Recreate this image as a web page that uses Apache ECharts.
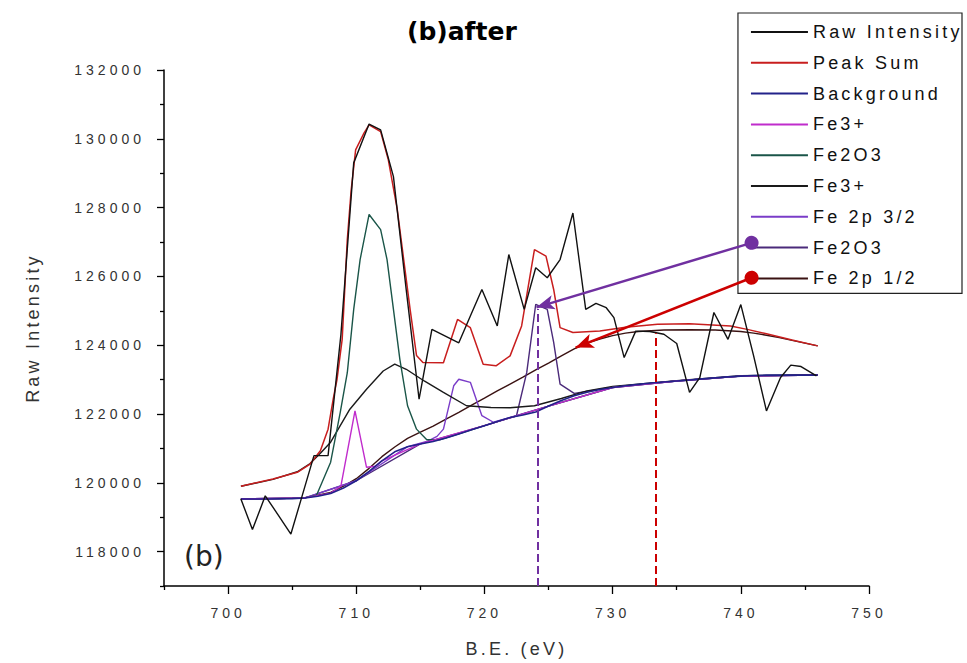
<!DOCTYPE html>
<html>
<head>
<meta charset="utf-8">
<title>(b)after</title>
<script src="https://cdn.jsdelivr.net/npm/echarts@6.0.0/dist/echarts.min.js"></script>
<style>
  html, body { margin: 0; padding: 0; background: #ffffff; }
  #chart { width: 967px; height: 663px; }
  /* Origin-style spaced lettering for tick labels, legend and axis names */
  #chart text[style*="14px"] { letter-spacing: 4px; }
  #chart text[style*="18px"] { letter-spacing: 3.2px; }
</style>
</head>
<body>
<div id="chart"></div>
<script>
// ---- Fe 2p spectrum, binding energy (eV) vs counts ----
const rawIntensity = [
  [701.0,119530],[701.9,118640],[702.9,119620],[703.9,119070],[704.9,118510],[705.8,119650],
  [706.7,120790],[707.8,120790],[708.8,124300],[709.8,129300],[711.0,130430],[711.9,130260],
  [712.9,128900],[713.9,125600],[714.9,122430],[715.9,124460],[718.0,124070],[718.9,124850],
  [719.8,125620],[721.0,124560],[721.9,126635],[723.1,125040],[724.0,126250],[724.9,125960],
  [725.9,126490],[726.9,127843],[727.9,125040],[728.7,125214],[729.5,125090],[730.1,124800],
  [730.9,123640],[731.8,124410],[732.9,124400],[734.0,124320],[735.0,124050],[736.0,122630],
  [736.8,123060],[737.9,124950],[739.0,124170],[740.0,125180],[741.0,123690],[742.0,122090],
  [743.1,123060],[743.9,123420],[744.7,123380],[745.9,123110]
];
const peakSum = [
  [701,119900],[703.5,120110],[705.4,120305],[706.4,120545],[707.2,120930],[707.8,121560],
  [708.2,122430],[708.5,123010],[708.9,124170],[709.3,127070],[709.6,128500],[709.95,129680],
  [710.6,130165],[711,130405],[711.9,130210],[712.5,129390],[713.2,127940],[713.7,126490],
  [714.2,125040],[714.7,123700],[715.2,123500],[716.8,123490],[717.9,124750],[718.9,124510],
  [719.9,123445],[720.9,123400],[722,123690],[722.9,124560],[723.9,126780],[724.8,126590],
  [725.4,125620],[725.9,124510],[726.9,124370],[729,124414],[731,124520],[733.5,124610],
  [736,124620],[739.2,124560],[740.5,124460],[742,124330],[744,124150],[746,123980]
];
const background = [
  [701,119530],[703,119530],[705,119540],[706,119560],[707,119610],[708,119690],[709,119850],
  [710,120060],[711,120330],[712,120640],[713,120900],[714,121050],[715,121130],[716,121200],
  [717,121300],[718,121420],[719,121540],[720,121660],[721,121780],[722,121900],[723,121970],
  [724,122060],[725,122230],[726,122390],[727,122530],[728,122630],[729,122710],[730,122770],
  [731,122820],[732,122860],[733,122900],[734,122930],[735,122960],[736,122990],[737,123020],
  [738,123050],[739,123080],[740,123100],[741,123120],[742,123130],[746,123130]
];
const fe3Plus710 = [
  [701,119530],[706,119560],[708,119700],[708.8,119900],[709.9,122090],[710.8,120450],
  [711.5,120480],[712,120640],[715,121130],[720,121660],[725,122230],[730,122770],
  [735,122960],[740,123100],[746,123130]
];
const fe2o3Main = [
  [701,119530],[706,119560],[706.9,119640],[708,120600],[708.75,122050],[709.3,123200],
  [709.8,125040],[710.3,126490],[711,127800],[711.9,127360],[712.4,126490],[712.9,125040],
  [713.4,123590],[714,122240],[714.7,121560],[715.5,121250],[716.5,121250],[718,121420],
  [720,121660],[725,122230],[730,122770],[735,122960],[740,123100],[746,123130]
];
const fe3Plus713 = [
  [701,119900],[703.5,120100],[705.4,120320],[706.4,120560],[707.2,120860],[708,121180],
  [709.5,122140],[710.8,122720],[712.1,123250],[713,123450],[713.9,123300],[715.3,122960],
  [716.8,122630],[718.6,122240],[720.5,122190],[722,122180],[723.9,122240],[726,122450],
  [728,122670],[730,122800],[735,122970],[740,123110],[746,123140]
];
const fe2p32 = [
  [701,119530],[706,119560],[710,120060],[714,121050],[715.5,121200],[716.3,121350],
  [716.8,121560],[717.6,122820],[718,123010],[718.9,122920],[719.8,121950],[720.7,121760],
  [722,121900],[725,122230],[730,122770],[735,122960],[740,123100],[746,123130]
];
const fe2o3Sat = [
  [701,119530],[706,119560],[710,120060],[715,121130],[720,121660],[722.5,121950],
  [723.3,123210],[724,125190],[724.9,125040],[725.4,124080],[725.9,122870],[727,122600],
  [730,122780],[735,122960],[740,123100],[746,123130]
];
const fe2p12 = [
  [701,119530],[704,119540],[706,119570],[707,119640],[708,119720],[709,119900],[710,120120],
  [711,120420],[712,120760],[713,121040],[714,121290],[715,121470],[716,121650],[717,121850],
  [718,122050],[719,122260],[720,122460],[721,122670],[722,122870],[723,123070],[724,123280],
  [725,123480],[726,123690],[727,123890],[728,124060],[729,124180],[730,124280],[731,124350],
  [732,124400],[733,124420],[734,124440],[736,124450],[738,124440],[739,124420],[740,124400],
  [741,124350],[742,124290],[743,124220],[744,124140],[745,124060],[746,123980]
];

// peak position guides and legend call-outs (eV, counts)
const fe2o3Guide = { x: 724.12, top: 125050 };
const fe2p12Guide = { x: 733.36, top: 124350 };
const fe2o3Arrow = { from: [740.84, 126976], to: [724.06, 125100] };
const fe2p12Arrow = { from: [740.84, 125961], to: [727.11, 123932] };

// axis ticks
const xMajor = [700, 710, 720, 730, 740, 750];
const xMinor = [695, 705, 715, 725, 735, 745];
const yMajor = [118000, 120000, 122000, 124000, 126000, 128000, 130000, 132000];
const yMinor = [117000, 119000, 121000, 123000, 125000, 127000, 129000, 131000];

// legend entries (series key -> shown label)
const legendKeys = ['raw', 'sum', 'bg', 'fe3a', 'fe2o3a', 'fe3b', 'fe2p32', 'fe2o3b', 'fe2p12'];
const legendLabels = {
  raw: 'Raw Intensity', sum: 'Peak Sum', bg: 'Background', fe3a: 'Fe3+', fe2o3a: 'Fe2O3',
  fe3b: 'Fe3+', fe2p32: 'Fe 2p 3/2', fe2o3b: 'Fe2O3', fe2p12: 'Fe 2p 1/2'
};

const FONT = 'Liberation Sans';
const PURPLE = '#7030a0';
const RED = '#cc0000';

function curve(name, data, color, width, z, extra) {
  return Object.assign({
    name: name, type: 'line', data: data, symbol: 'none', showSymbol: false,
    smooth: false, clip: true, silent: true, animation: false, z: z,
    lineStyle: { color: color, width: width }, itemStyle: { color: color }
  }, extra || {});
}

const chart = echarts.init(document.getElementById('chart'), null, { renderer: 'svg' });

const tickStyle = { color: '#000', width: 1.3 };

chart.setOption({
  animation: false,
  backgroundColor: '#ffffff',
  title: {
    text: '(b)after', left: 402, top: 14,
    textStyle: { fontFamily: 'DejaVu Sans', fontWeight: 'bold', fontSize: 25, color: '#000' }
  },
  grid: { left: 164, right: 98, top: 70, bottom: 75 },
  legend: {
    orient: 'vertical', right: 5, top: 13,
    data: legendKeys,
    formatter: function (n) { return legendLabels[n]; },
    itemWidth: 57, itemHeight: 20, itemGap: 10.8,
    padding: [9, 41, 5, 12],
    backgroundColor: '#ffffff', borderColor: '#222', borderWidth: 1.2, borderRadius: 0,
    itemStyle: { color: 'rgba(0,0,0,0)', borderColor: 'rgba(0,0,0,0)', borderWidth: 0 },
    textStyle: { fontFamily: FONT, fontSize: 18, color: '#111', lineHeight: 20 },
    selectedMode: false, z: 4
  },
  xAxis: [
    {
      type: 'value', min: 695, max: 750, position: 'bottom',
      axisLine: { show: true, onZero: false, lineStyle: { color: '#000', width: 1.5 } },
      axisTick: { show: true, length: 8, customValues: xMajor, lineStyle: tickStyle },
      axisLabel: { customValues: xMajor, margin: 20, color: '#333', fontFamily: FONT, fontSize: 14,
                   formatter: function (v) { return String(v); } },
      splitLine: { show: false },
      name: 'B.E. (eV)', nameLocation: 'middle', nameGap: 54,
      nameTextStyle: { fontFamily: FONT, fontSize: 18, color: '#333' }
    },
    {
      type: 'value', min: 695, max: 750, position: 'bottom',
      axisLine: { show: false, onZero: false },
      axisTick: { show: true, length: 4, customValues: xMinor, lineStyle: tickStyle },
      axisLabel: { show: false }, splitLine: { show: false }
    }
  ],
  yAxis: [
    {
      type: 'value', min: 117000, max: 132000, position: 'left',
      axisLine: { show: true, onZero: false, lineStyle: { color: '#000', width: 1.5 } },
      axisTick: { show: true, length: 7, customValues: yMajor, lineStyle: tickStyle },
      axisLabel: { customValues: yMajor, margin: 19, color: '#333', fontFamily: FONT, fontSize: 14,
                   formatter: function (v) { return String(v); } },
      splitLine: { show: false },
      name: 'Raw Intensity', nameLocation: 'middle', nameGap: 122,
      nameTextStyle: { fontFamily: FONT, fontSize: 18, color: '#333' }
    },
    {
      type: 'value', min: 117000, max: 132000, position: 'left',
      axisLine: { show: false, onZero: false },
      axisTick: { show: true, length: 4, customValues: yMinor, lineStyle: tickStyle },
      axisLabel: { show: false }, splitLine: { show: false }
    }
  ],
  graphic: [
    { type: 'text', left: 184, top: 542, silent: true,
      style: { text: '(b)', font: '28px "DejaVu Sans"', fill: '#222' } }
  ],
  series: [
    curve('fe2p12', fe2p12, '#3a1212', 1.4, 2, {
      markLine: {
        silent: true, animation: false, symbol: ['none', 'none'], label: { show: false },
        data: [
          [ { coord: [fe2p12Guide.x, 117000], lineStyle: { color: RED, width: 2, type: [8, 4] } },
            { coord: [fe2p12Guide.x, fe2p12Guide.top], lineStyle: { color: RED, width: 2, type: [8, 4] } } ],
          [ { coord: fe2p12Arrow.from, symbol: 'circle', symbolSize: 14,
              lineStyle: { color: RED, width: 2.5, type: 'solid' }, itemStyle: { color: RED } },
            { coord: fe2p12Arrow.to, symbol: 'arrow', symbolSize: [11, 18],
              lineStyle: { color: RED, width: 2.5, type: 'solid' }, itemStyle: { color: RED } } ]
        ]
      }
    }),
    curve('fe2o3b', fe2o3Sat, '#4b2a7a', 1.4, 2, {
      markLine: {
        silent: true, animation: false, symbol: ['none', 'none'], label: { show: false },
        data: [
          [ { coord: [fe2o3Guide.x, 117000], lineStyle: { color: PURPLE, width: 2, type: [8, 4] } },
            { coord: [fe2o3Guide.x, fe2o3Guide.top], lineStyle: { color: PURPLE, width: 2, type: [8, 4] } } ],
          [ { coord: fe2o3Arrow.from, symbol: 'circle', symbolSize: 14,
              lineStyle: { color: PURPLE, width: 2.5, type: 'solid' }, itemStyle: { color: PURPLE } },
            { coord: fe2o3Arrow.to, symbol: 'arrow', symbolSize: [11, 18],
              lineStyle: { color: PURPLE, width: 2.5, type: 'solid' }, itemStyle: { color: PURPLE } } ]
        ]
      }
    }),
    curve('fe2p32', fe2p32, '#7a3cc8', 1.4, 2),
    curve('fe3b', fe3Plus713, '#1a1a1a', 1.4, 2),
    curve('fe2o3a', fe2o3Main, '#1a5548', 1.4, 2),
    curve('fe3a', fe3Plus710, '#c02ccc', 1.4, 2),
    curve('bg', background, '#22228a', 1.6, 3),
    curve('sum', peakSum, '#c81e1e', 1.5, 3),
    curve('raw', rawIntensity, '#111111', 1.4, 4)
  ]
});
</script>
</body>
</html>
